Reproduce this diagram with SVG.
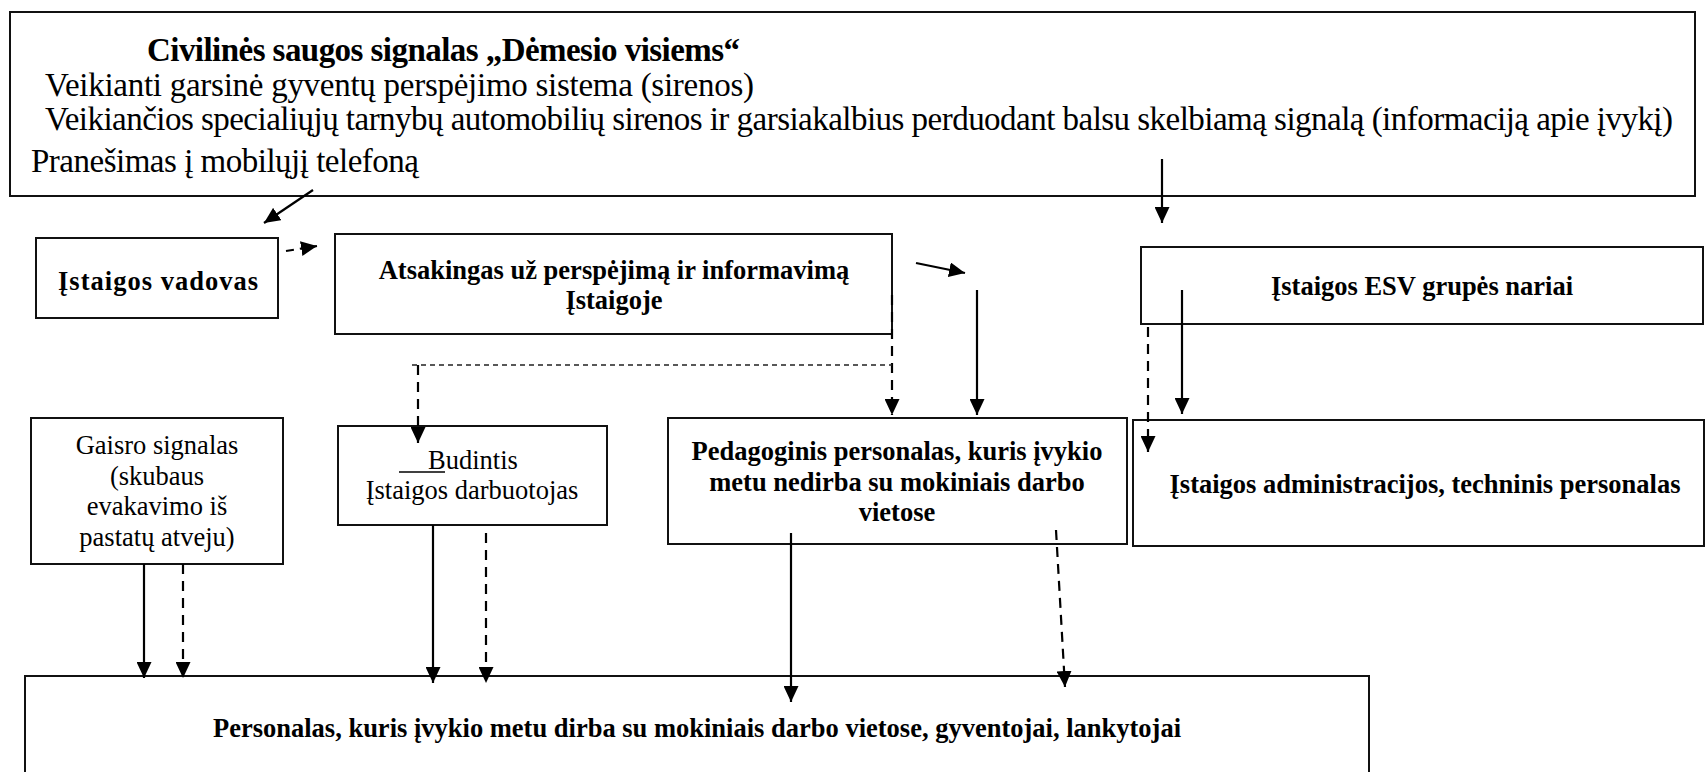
<svg xmlns="http://www.w3.org/2000/svg" width="1705" height="772" viewBox="0 0 1705 772">
<defs>
<style>
.box{fill:#fff;stroke:#111;stroke-width:2}
.t{font-family:"Liberation Serif","Times New Roman",serif;fill:#000}
.top{font-size:33px}
.b{font-size:26.5px;font-weight:bold}
.r{font-size:26.5px}
.c{text-anchor:middle}
.ln{fill:none;stroke:#000;stroke-width:2.2}
.ds{stroke-dasharray:10 7}
.th{fill:none;stroke:#222;stroke-width:1.3;stroke-dasharray:5 4}
</style>
<marker id="ah" markerUnits="userSpaceOnUse" markerWidth="16" markerHeight="15" viewBox="0 0 16 15" refX="16" refY="7.5" orient="auto">
<path d="M0,0 L16,7.5 L0,15 z" fill="#000"/>
</marker>
</defs>
<rect width="1705" height="772" fill="#fff"/>

<g id="signal">
<rect class="box" x="10" y="12" width="1685" height="184"/>
<text class="t top" x="147" y="61" font-weight="bold" textLength="593" lengthAdjust="spacing">Civilinės saugos signalas „Dėmesio visiems“</text>
<text class="t top" x="45" y="96" textLength="709" lengthAdjust="spacing">Veikianti garsinė gyventų perspėjimo sistema (sirenos)</text>
<text class="t top" x="45" y="130" textLength="1628" lengthAdjust="spacing">Veikiančios specialiųjų tarnybų automobilių sirenos ir garsiakalbius perduodant balsu skelbiamą signalą (informaciją apie įvykį)</text>
<text class="t top" x="31" y="172" textLength="388" lengthAdjust="spacing">Pranešimas į mobilųjį telefoną</text>
</g>

<g id="vadovas">
<rect class="box" x="36" y="238" width="242" height="80"/>
<text class="t b c" x="158" y="290" font-size="28.5" textLength="200" lengthAdjust="spacing">Įstaigos vadovas</text>
</g>

<g id="atsakingas">
<rect class="box" x="335" y="234" width="557" height="100"/>
<text class="t b c" x="614" y="279">Atsakingas už perspėjimą ir informavimą</text>
<text class="t b c" x="614" y="309">Įstaigoje</text>
</g>

<g id="esv">
<rect class="box" x="1141" y="247" width="562" height="77"/>
<text class="t b c" x="1422" y="295">Įstaigos ESV grupės nariai</text>
</g>

<g id="gaisro">
<rect class="box" x="31" y="418" width="252" height="146"/>
<text class="t r c" x="157" y="454">Gaisro signalas</text>
<text class="t r c" x="157" y="485">(skubaus</text>
<text class="t r c" x="157" y="515">evakavimo iš</text>
<text class="t r c" x="157" y="546">pastatų atveju)</text>
</g>

<g id="budintis">
<rect class="box" x="338" y="426" width="269" height="99"/>
<line x1="399" y1="472" x2="445" y2="472" stroke="#000" stroke-width="1.5"/>
<text class="t r" x="428" y="469">Budintis</text>
<text class="t r c" x="472" y="499">Įstaigos darbuotojas</text>
</g>

<g id="pedagoginis">
<rect class="box" x="668" y="418" width="459" height="126"/>
<text class="t b c" x="897" y="460">Pedagoginis personalas, kuris įvykio</text>
<text class="t b c" x="897" y="491">metu nedirba su mokiniais darbo</text>
<text class="t b c" x="897" y="521">vietose</text>
</g>

<g id="administracija">
<rect class="box" x="1133" y="420" width="571" height="126"/>
<text class="t b c" x="1425" y="493">Įstaigos administracijos, techninis personalas</text>
</g>

<g id="personalas">
<rect class="box" x="25" y="676" width="1344" height="110"/>
<text class="t b c" x="697" y="737">Personalas, kuris įvykio metu dirba su mokiniais darbo vietose, gyventojai, lankytojai</text>
</g>

<g id="connectors">
<line class="ln" x1="313" y1="190" x2="264" y2="223" marker-end="url(#ah)"/>
<line class="ln" x1="286" y1="251" x2="317" y2="246" stroke-dasharray="8 6" marker-end="url(#ah)"/>
<line class="ln" x1="916" y1="263" x2="965" y2="273" marker-end="url(#ah)"/>
<line class="ln" x1="977" y1="290" x2="977" y2="415" marker-end="url(#ah)"/>
<line class="ln ds" x1="892" y1="295" x2="892" y2="415" marker-end="url(#ah)"/>
<line class="th" x1="412" y1="365" x2="892" y2="365"/>
<line class="ln ds" x1="418" y1="365" x2="418" y2="443" marker-end="url(#ah)"/>
<line class="ln" x1="1162" y1="159" x2="1162" y2="223" marker-end="url(#ah)"/>
<line class="ln" x1="1182" y1="290" x2="1182" y2="414" marker-end="url(#ah)"/>
<line class="ln ds" x1="1148" y1="327" x2="1148" y2="452" marker-end="url(#ah)"/>
<line class="ln" x1="144" y1="564" x2="144" y2="678" marker-end="url(#ah)"/>
<line class="ln ds" x1="183" y1="564" x2="183" y2="678" marker-end="url(#ah)"/>
<line class="ln" x1="433" y1="525" x2="433" y2="683" marker-end="url(#ah)"/>
<line class="ln ds" x1="486" y1="533" x2="486" y2="683" marker-end="url(#ah)"/>
<line class="ln" x1="791" y1="533" x2="791" y2="702" marker-end="url(#ah)"/>
<line class="ln ds" x1="1056" y1="530" x2="1065" y2="687" marker-end="url(#ah)"/>
</g>
</svg>
